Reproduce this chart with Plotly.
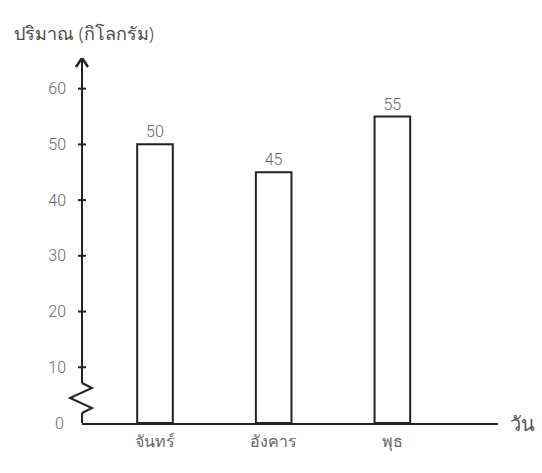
import plotly.graph_objects as go

# Data
days = ["จันทร์", "อังคาร", "พุธ"]
amounts = [50, 45, 55]
y_ticks = [10, 20, 30, 40, 50, 60]
y_title = "ปริมาณ (กิโลกรัม)"
x_title = "วัน"

# Canvas geometry
W, H = 542, 473
L, R, T, B = 82, 44, 58, 50
plot_w = W - L - R
plot_h = H - T - B
y_top = 65.5
x_range = [-0.615, 2.89]

ink = "#222222"
num_col = "#666666"
txt_col = "#4a4a4a"
num_font = "Roboto, 'Noto Sans', sans-serif"
thai_font = "'Noto Sans', 'DejaVu Sans', sans-serif"


def px_x(dx):
    """Horizontal pixel offset from the y axis, as a paper fraction."""
    return dx / plot_w


def px_y(dy):
    """Vertical pixel distance, in y data units."""
    return dy * y_top / plot_h


fig = go.Figure()
fig.add_trace(go.Bar(
    x=days, y=amounts, width=0.3,
    marker=dict(color="white", line=dict(color=ink, width=2)),
    text=amounts, textposition="outside", cliponaxis=False,
    textfont=dict(size=16, color=num_col, family=num_font, weight=300),
    hoverinfo="skip",
))

shapes = []
# y axis with a break (zigzag) near the origin
brk_hi, brk_lo = px_y(40), px_y(10)
shapes.append(dict(type="line", xref="paper", yref="y", x0=0, x1=0,
                   y0=brk_hi, y1=y_top, line=dict(color=ink, width=2)))
shapes.append(dict(type="line", xref="paper", yref="y", x0=0, x1=0,
                   y0=0, y1=brk_lo, line=dict(color=ink, width=2)))
zig = [(0, px_y(40)), (px_x(10), px_y(35)), (px_x(-12), px_y(25)),
       (px_x(10), px_y(15)), (0, px_y(10))]
path = "M " + " L ".join(f"{x},{y}" for x, y in zig)
shapes.append(dict(type="path", xref="paper", yref="y", path=path,
                   line=dict(color=ink, width=2)))
# arrow head at the top of the y axis
head = [(px_x(-6), y_top - px_y(9)), (0, y_top), (px_x(6), y_top - px_y(9))]
shapes.append(dict(type="path", xref="paper", yref="y",
                   path="M " + " L ".join(f"{x},{y}" for x, y in head),
                   line=dict(color=ink, width=2.5)))
# tick marks crossing the y axis
for v in y_ticks:
    shapes.append(dict(type="line", xref="paper", yref="y",
                       x0=px_x(-4), x1=px_x(4), y0=v, y1=v,
                       line=dict(color=ink, width=2)))

annotations = [
    dict(text="0", x=0, y=0, xref="paper", yref="y", xanchor="right",
         yanchor="middle", xshift=-16, showarrow=False,
         font=dict(size=16, color=num_col, family=num_font, weight=300)),
    dict(text=y_title, x=px_x(12 - L), y=1 + (T - 33) / plot_h,
         xref="paper", yref="paper", xanchor="left", yanchor="middle",
         showarrow=False,
         font=dict(size=18, color=txt_col, family=thai_font, weight=300)),
    dict(text=x_title, x=1 + 10 / plot_w, y=0, xref="paper", yref="y",
         xanchor="left", yanchor="middle", showarrow=False,
         font=dict(size=20, color="#555555", family=thai_font, weight=300)),
]

fig.update_layout(
    width=W, height=H,
    margin=dict(l=L, r=R, t=T, b=B),
    paper_bgcolor="white", plot_bgcolor="white",
    showlegend=False,
    shapes=shapes, annotations=annotations,
    xaxis=dict(range=x_range, showline=True, linecolor=ink, linewidth=2,
               ticks="", showgrid=False, zeroline=False,
               tickfont=dict(size=16, color=num_col, family=thai_font,
                             weight=300),
               ticklabelstandoff=3, fixedrange=True),
    yaxis=dict(range=[0, y_top], tickvals=y_ticks, ticks="", showline=False,
               showgrid=False, zeroline=False,
               tickfont=dict(size=16, color=num_col, family=num_font,
                             weight=300),
               ticklabelstandoff=15, fixedrange=True),
)

fig.write_html("out.html")
